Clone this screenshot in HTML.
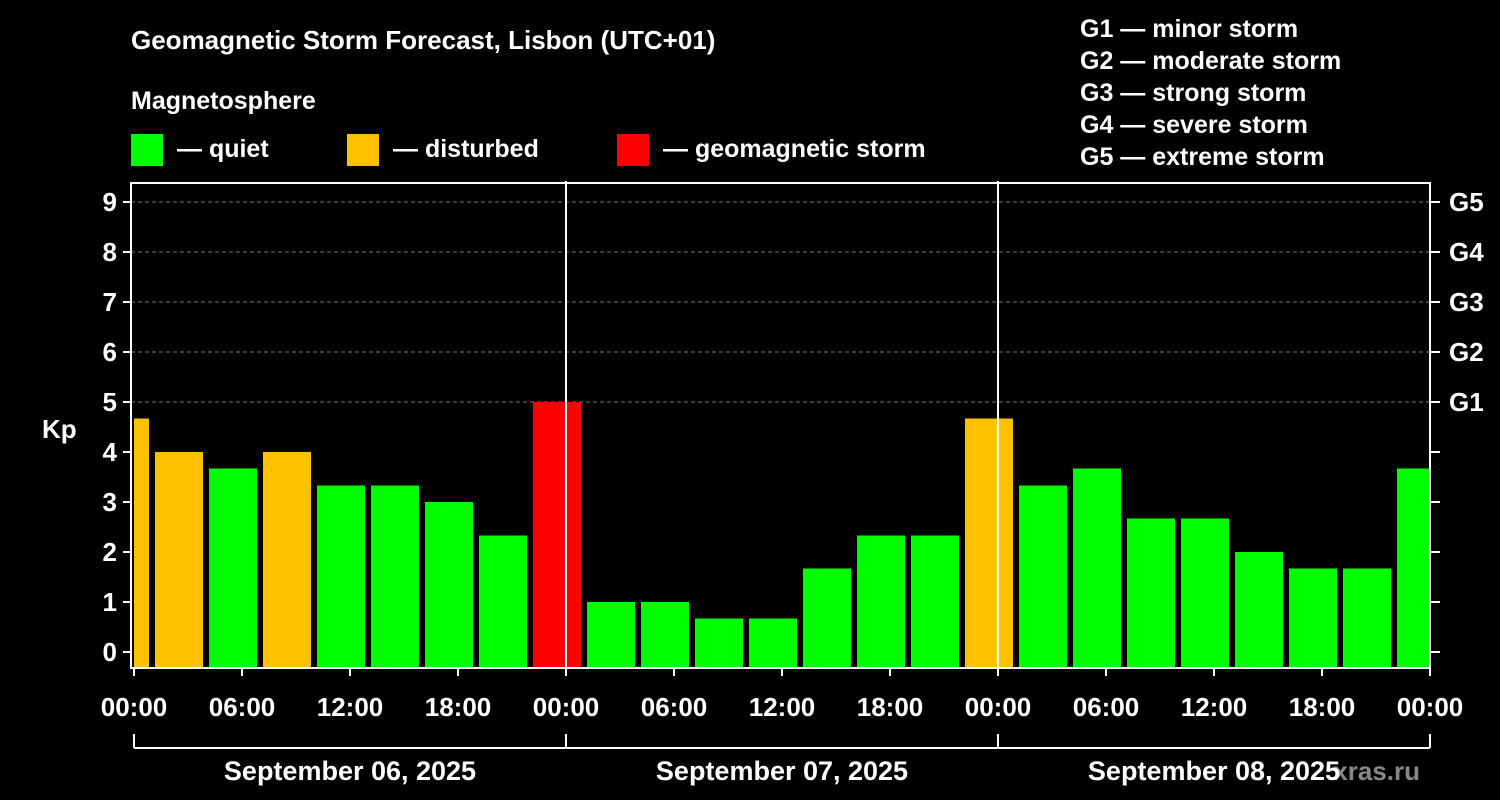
<!DOCTYPE html>
<html><head><meta charset="utf-8"><style>
body{margin:0;background:#000;width:1500px;height:800px;overflow:hidden}
svg{display:block;font-family:"Liberation Sans",Arial,sans-serif;font-weight:bold}
</style></head><body>
<svg id="c" width="1500" height="800">
<text x="131" y="49" fill="#fff" font-size="26">Geomagnetic Storm Forecast, Lisbon (UTC+01)</text>
<text x="131" y="109" fill="#fff" font-size="25">Magnetosphere</text>
<rect x="131" y="134" width="32" height="32" fill="#00ff00"/>
<text x="177" y="157" fill="#fff" font-size="25">— quiet</text>
<rect x="347" y="134" width="32" height="32" fill="#ffc000"/>
<text x="393" y="157" fill="#fff" font-size="25">— disturbed</text>
<rect x="617" y="134" width="32" height="32" fill="#ff0000"/>
<text x="663" y="157" fill="#fff" font-size="25">— geomagnetic storm</text>
<g fill="#fff" font-size="25">
<text x="1080" y="37">G1 — minor storm</text>
<text x="1080" y="69">G2 — moderate storm</text>
<text x="1080" y="101">G3 — strong storm</text>
<text x="1080" y="133">G4 — severe storm</text>
<text x="1080" y="165">G5 — extreme storm</text>
</g>
<text x="42" y="438" fill="#fff" font-size="26">Kp</text>
<text x="1420" y="780" fill="#888" font-size="26" text-anchor="end">xras.ru</text>
<g id="plot"></g>
</svg>
<script>
const kpValues=[4.67,4,3.67,4,3.33,3.33,3,2.33,5,1,1,0.67,0.67,1.67,2.33,2.33,4.67,3.33,3.67,2.67,2.67,2,1.67,1.67,3.67];
const yTicks=[0,1,2,3,4,5,6,7,8,9];
const gLabels=["G1","G2","G3","G4","G5"];
const xTickLabels=["00:00","06:00","12:00","18:00","00:00","06:00","12:00","18:00","00:00","06:00","12:00","18:00","00:00"];
const dayLabels=["September 06, 2025","September 07, 2025","September 08, 2025"];
const NS="http://www.w3.org/2000/svg";
const g=document.getElementById('plot');
const X0=134,PXH=18,L=131,R=1430,T=183,B=668;
const x=h=>X0+h*PXH, y=v=>652-v*50;
function mk(t,a,p){const e=document.createElementNS(NS,t);for(const k in a)e.setAttribute(k,a[k]);(p||g).appendChild(e);return e;}
// grid
yTicks.forEach(v=>{if(v>=5){const l=mk('line',{x1:L,x2:R,y1:y(v),y2:y(v),stroke:'#777','stroke-dasharray':'4,3'});

}});
// bars
kpValues.forEach((v,i)=>{const s=-2+3*i;let x1=x(s)+3,x2=x(s+3)-3;x1=Math.max(x1,X0);x2=Math.min(x2,R);
const c=v>=5?'#ff0000':(v>=4?'#ffc000':'#00ff00');
const r=mk('rect',{x:x1,y:y(v),width:x2-x1,height:B-y(v),fill:c});

});
// axes box
const box=mk('rect',{x:L,y:T,width:R-L,height:B-T,fill:'none',stroke:'#fff','stroke-width':2});


[24,48].forEach(h=>{const l=mk('line',{x1:x(h),x2:x(h),y1:181,y2:B,stroke:'#fff','stroke-width':2});

});
yTicks.forEach(v=>{mk('line',{x1:L-8,x2:L,y1:y(v),y2:y(v),stroke:'#fff','stroke-width':2});
mk('line',{x1:R,x2:R+10,y1:y(v),y2:y(v),stroke:'#fff','stroke-width':2});
const t=mk('text',{x:117,y:y(v)+9,fill:'#fff','font-size':26,'text-anchor':'end'});t.textContent=v;

});
gLabels.forEach((s,i)=>{const t=mk('text',{x:1449,y:y(5+i)+9,fill:'#fff','font-size':26});t.textContent=s;

});
xTickLabels.forEach((s,i)=>{const h=i*6;mk('line',{x1:x(h),x2:x(h),y1:B,y2:B+8,stroke:'#fff','stroke-width':2});
const t=mk('text',{x:x(h),y:716,fill:'#fff','font-size':26,'text-anchor':'middle'});t.textContent=s;

});
mk('line',{x1:X0,x2:R,y1:748,y2:748,stroke:'#fff','stroke-width':2});
[0,24,48,72].forEach(h=>mk('line',{x1:x(h),x2:x(h),y1:734,y2:748,stroke:'#fff','stroke-width':2}));
dayLabels.forEach((s,i)=>{const t=mk('text',{x:x(i*24+12),y:780,fill:'#fff','font-size':27,'text-anchor':'middle'});t.textContent=s;

});
</script>
</body></html>
